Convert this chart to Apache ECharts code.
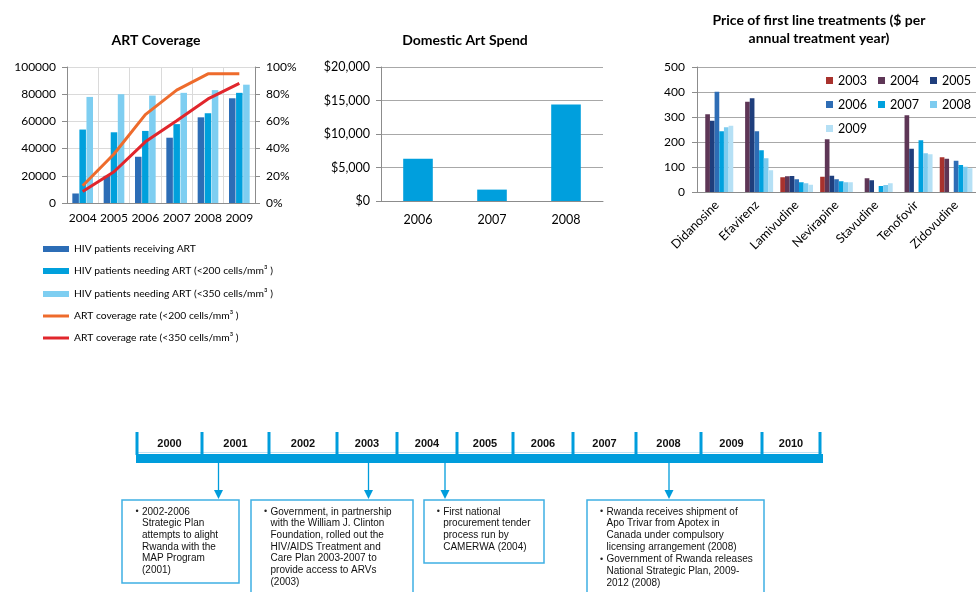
<!DOCTYPE html>
<html><head><meta charset="utf-8">
<script src="https://cdn.jsdelivr.net/npm/echarts@6/dist/echarts.min.js"></script>
<style>html,body{margin:0;padding:0;background:#fff}#c{width:976px;height:592px}</style>
</head><body><div id="c"></div>
<script>
// ---------- data ----------
const artYears = ['2004', '2005', '2006', '2007', '2008', '2009'];
const hivReceiving = [7000, 20000, 34000, 48000, 63000, 77000];
const hivNeeding200 = [54000, 52000, 53000, 58000, 66000, 81000];
const hivNeeding350 = [78000, 80000, 79000, 81000, 83000, 87000];
const coverage200 = [12.7, 36, 65, 83, 95, 95];
const coverage350 = [8.5, 23, 45, 60.5, 76.5, 88];
const artSeriesNames = [
  'HIV patients receiving ART',
  'HIV patients needing ART (<200 cells/mm³ )',
  'HIV patients needing ART (<350 cells/mm³ )',
  'ART coverage rate (<200 cells/mm³ )',
  'ART coverage rate (<350 cells/mm³ )'
];

const spendYears = ['2006', '2007', '2008'];
const domesticSpend = [6300, 1700, 14400];

const drugs = ['Didanosine', 'Efavirenz', 'Lamivudine', 'Nevirapine', 'Stavudine', 'Tenofovir', 'Zidovudine'];
const priceYears = ['2003', '2004', '2005', '2006', '2007', '2008', '2009'];
const price2003 = [null, null, 59, 61, null, null, 139];
const price2004 = [311, 361, 63, 211, 55, 307, 133];
const price2005 = [285, 375, 64, 65, 47, 173, null];
const price2006 = [401, 243, 51, 51, null, null, 125];
const price2007 = [243, 167, 39, 43, 24, 207, 108];
const price2008 = [259, 135, 35, 39, 28, 155, 101];
const price2009 = [265, 87, 29, 39, 35, 151, 95];

const timelineYears = ['2000', '2001', '2002', '2003', '2004', '2005', '2006', '2007', '2008', '2009', '2010'];
const event2001 = ['2002-2006', 'Strategic Plan', 'attempts to alight', 'Rwanda with the', 'MAP Program', '(2001)'];
const event2003 = ['Government, in partnership', 'with the William J. Clinton', 'Foundation, rolled out the', 'HIV/AIDS Treatment and', 'Care Plan 2003-2007 to', 'provide access to ARVs', '(2003)'];
const event2004 = ['First national', 'procurement tender', 'process run by', 'CAMERWA (2004)'];
const event2008a = ['Rwanda receives shipment of', 'Apo Trivar from Apotex in', 'Canada under compulsory', 'licensing arrangement (2008)'];
const event2008b = ['Government of Rwanda releases', 'National Strategic Plan, 2009-', '2012 (2008)'];

// ---------- style / layout ----------
const FONT = 'Lato';
const AX = '#8C8C8C';
const BLUE = '#009DDC';
const BOXC = '#3FB0E4';
const priceColors = ['#A8322D', '#5E3656', '#1F3E7C', '#2E6DB5', '#00A1DE', '#7DCBEF', '#B5E0F5'];
const artColors = ['#2C6DB6', '#00A0DC', '#7ECEF1', '#EE6B2C', '#E1262C'];

const edges = [137, 202, 269, 337, 397, 457, 513, 573, 636, 701, 762, 820];
const graphics = [];
graphics.push({type: 'rect', shape: {x: 137, y: 452, width: 685, height: 1}, style: {fill: '#BFE2F4'}});
graphics.push({type: 'rect', shape: {x: 136, y: 454, width: 687, height: 9}, style: {fill: BLUE}});
edges.forEach(x => graphics.push({type: 'rect', shape: {x: x - 1.5, y: 432, width: 3, height: 23}, style: {fill: BLUE}}));
timelineYears.forEach((t, i) => graphics.push({
  type: 'text', style: {text: t, x: (edges[i] + edges[i + 1]) / 2, y: 443.5, textAlign: 'center', textVerticalAlign: 'middle',
    font: 'bold 11px "Liberation Sans"', fill: '#111'}
}));
function box(x, y, w, h, ax, blocks) {
  graphics.push({type: 'line', shape: {x1: ax, y1: 463, x2: ax, y2: 492}, style: {stroke: BLUE, lineWidth: 1.3}});
  graphics.push({type: 'polygon', shape: {points: [[ax - 4.5, 490], [ax + 4.5, 490], [ax, 499]]}, style: {fill: BLUE}});
  graphics.push({type: 'rect', shape: {x: x, y: y, width: w, height: h}, style: {fill: 'none', stroke: BOXC, lineWidth: 1.5}});
  blocks.forEach(b => {
    graphics.push({type: 'text', style: {text: '•', x: b.bx, y: b.y, font: '9px "Liberation Sans"', fill: '#222', lineHeight: 11.7}});
    graphics.push({type: 'text', style: {text: b.lines.join('\n'), x: b.bx + 6.5, y: b.y, font: '10px "Liberation Sans"', fill: '#111', lineHeight: 11.7}});
  });
}
box(122, 500, 117, 83, 218.5, [{bx: 135.5, y: 506, lines: event2001}]);
box(251, 500, 162, 100, 368.5, [{bx: 264, y: 506, lines: event2003}]);
box(424, 500, 120, 63, 445, [{bx: 436.7, y: 506, lines: event2004}]);
box(587, 500, 177, 100, 669, [{bx: 600, y: 506, lines: event2008a}, {bx: 600, y: 553.5, lines: event2008b}]);

function artLegend(i, top, h) {
  return {data: [artSeriesNames[i]], left: 43, top: top, padding: 0, icon: 'rect', itemWidth: 26, itemHeight: h,
    selectedMode: false, textStyle: {fontSize: 10.3, color: '#000', fontFamily: FONT}};
}

const axisLabel = (fs) => ({color: '#000', fontSize: fs, fontFamily: FONT});

const option = {
  animation: false,
  textStyle: {fontFamily: FONT},
  title: [
    {text: 'ART Coverage', left: 156, top: 33, textAlign: 'center', padding: 0,
      textStyle: {fontSize: 14, fontWeight: 'bold', color: '#000', fontFamily: FONT}},
    {text: 'Domestic Art Spend', left: 465, top: 33, textAlign: 'center', padding: 0,
      textStyle: {fontSize: 14, fontWeight: 'bold', color: '#000', fontFamily: FONT}},
    {text: 'Price of first line treatments ($ per\nannual treatment year)', left: 819, top: 11, textAlign: 'center', padding: 0,
      textStyle: {fontSize: 14, fontWeight: 'bold', color: '#000', fontFamily: FONT, lineHeight: 18}}
  ],
  legend: [
    artLegend(0, 244, 6), artLegend(1, 266, 6), artLegend(2, 289, 6), artLegend(3, 311, 3), artLegend(4, 333, 3),
    {data: priceYears, left: 826, top: 74, width: 160, padding: 0, icon: 'rect', itemWidth: 7, itemHeight: 7, itemGap: 11,
      selectedMode: false, textStyle: {fontSize: 12.5, color: '#000', fontFamily: FONT}}
  ],
  grid: [
    {left: 67, top: 67, width: 188, height: 136},
    {left: 381, top: 67, width: 222, height: 134},
    {left: 697, top: 67, width: 292, height: 125}
  ],
  xAxis: [
    {gridIndex: 0, type: 'category', data: artYears,
      axisLine: {lineStyle: {color: AX}}, axisTick: {length: 5, lineStyle: {color: AX}},
      axisLabel: Object.assign({interval: 0, margin: 9}, axisLabel(12)),
      splitLine: {show: true, lineStyle: {color: '#DADADA'}}},
    {gridIndex: 1, type: 'category', data: spendYears,
      axisLine: {lineStyle: {color: AX}}, axisTick: {length: 5, lineStyle: {color: AX}},
      axisLabel: Object.assign({interval: 0, margin: 12}, axisLabel(12.5)), splitLine: {show: false}},
    {gridIndex: 2, type: 'category', data: drugs,
      axisLine: {lineStyle: {color: AX}}, axisTick: {length: 5, lineStyle: {color: AX}},
      axisLabel: Object.assign({interval: 0, rotate: 45, margin: 11}, axisLabel(12.5)), splitLine: {show: false}}
  ],
  yAxis: [
    {gridIndex: 0, type: 'value', min: 0, max: 100000, interval: 20000,
      axisLine: {show: true, lineStyle: {color: AX}}, axisTick: {show: true, length: 5, lineStyle: {color: AX}},
      axisLabel: Object.assign({margin: 11, formatter: v => String(v)}, axisLabel(12)), splitLine: {lineStyle: {color: '#DADADA'}}},
    {gridIndex: 0, type: 'value', position: 'right', min: 0, max: 100, interval: 20,
      axisLine: {show: true, lineStyle: {color: AX}}, axisTick: {show: true, length: 5, lineStyle: {color: AX}},
      axisLabel: Object.assign({margin: 11, formatter: v => v + '%'}, axisLabel(12)), splitLine: {show: false}},
    {gridIndex: 1, type: 'value', min: 0, max: 20000, interval: 5000,
      axisLine: {show: true, lineStyle: {color: AX}}, axisTick: {show: true, length: 5, lineStyle: {color: AX}},
      axisLabel: Object.assign({margin: 11, formatter: v => '$' + v.toLocaleString('en-US')}, axisLabel(12.5)),
      splitLine: {lineStyle: {color: '#A8A8A8'}}},
    {gridIndex: 2, type: 'value', min: 0, max: 500, interval: 100,
      axisLine: {show: true, lineStyle: {color: AX}}, axisTick: {show: true, length: 5, lineStyle: {color: AX}},
      axisLabel: Object.assign({margin: 12, formatter: v => String(v)}, axisLabel(12)), splitLine: {lineStyle: {color: '#A8A8A8', width: 1.2}}}
  ],
  series: [
    {name: artSeriesNames[0], type: 'bar', xAxisIndex: 0, yAxisIndex: 0, data: hivReceiving, color: artColors[0], barGap: '8%', barCategoryGap: '34%'},
    {name: artSeriesNames[1], type: 'bar', xAxisIndex: 0, yAxisIndex: 0, data: hivNeeding200, color: artColors[1], barGap: '8%', barCategoryGap: '34%'},
    {name: artSeriesNames[2], type: 'bar', xAxisIndex: 0, yAxisIndex: 0, data: hivNeeding350, color: artColors[2], barGap: '8%', barCategoryGap: '34%'},
    {name: artSeriesNames[3], type: 'line', xAxisIndex: 0, yAxisIndex: 1, data: coverage200, color: artColors[3], symbol: 'none', lineStyle: {width: 3, color: artColors[3]}},
    {name: artSeriesNames[4], type: 'line', xAxisIndex: 0, yAxisIndex: 1, data: coverage350, color: artColors[4], symbol: 'none', lineStyle: {width: 3, color: artColors[4]}},
    {name: 'Domestic Art Spend', type: 'bar', xAxisIndex: 1, yAxisIndex: 2, data: domesticSpend, color: '#009FDD', barCategoryGap: '60%'}
  ].concat([price2003, price2004, price2005, price2006, price2007, price2008, price2009].map((d, i) => ({
    name: priceYears[i], type: 'bar', xAxisIndex: 2, yAxisIndex: 3, data: d, color: priceColors[i], barGap: '0%', barCategoryGap: '18%'
  }))),
  graphic: graphics
};

const chart = echarts.init(document.getElementById('c'), null, {renderer: 'canvas'});
chart.setOption(option);
</script>
</body></html>
